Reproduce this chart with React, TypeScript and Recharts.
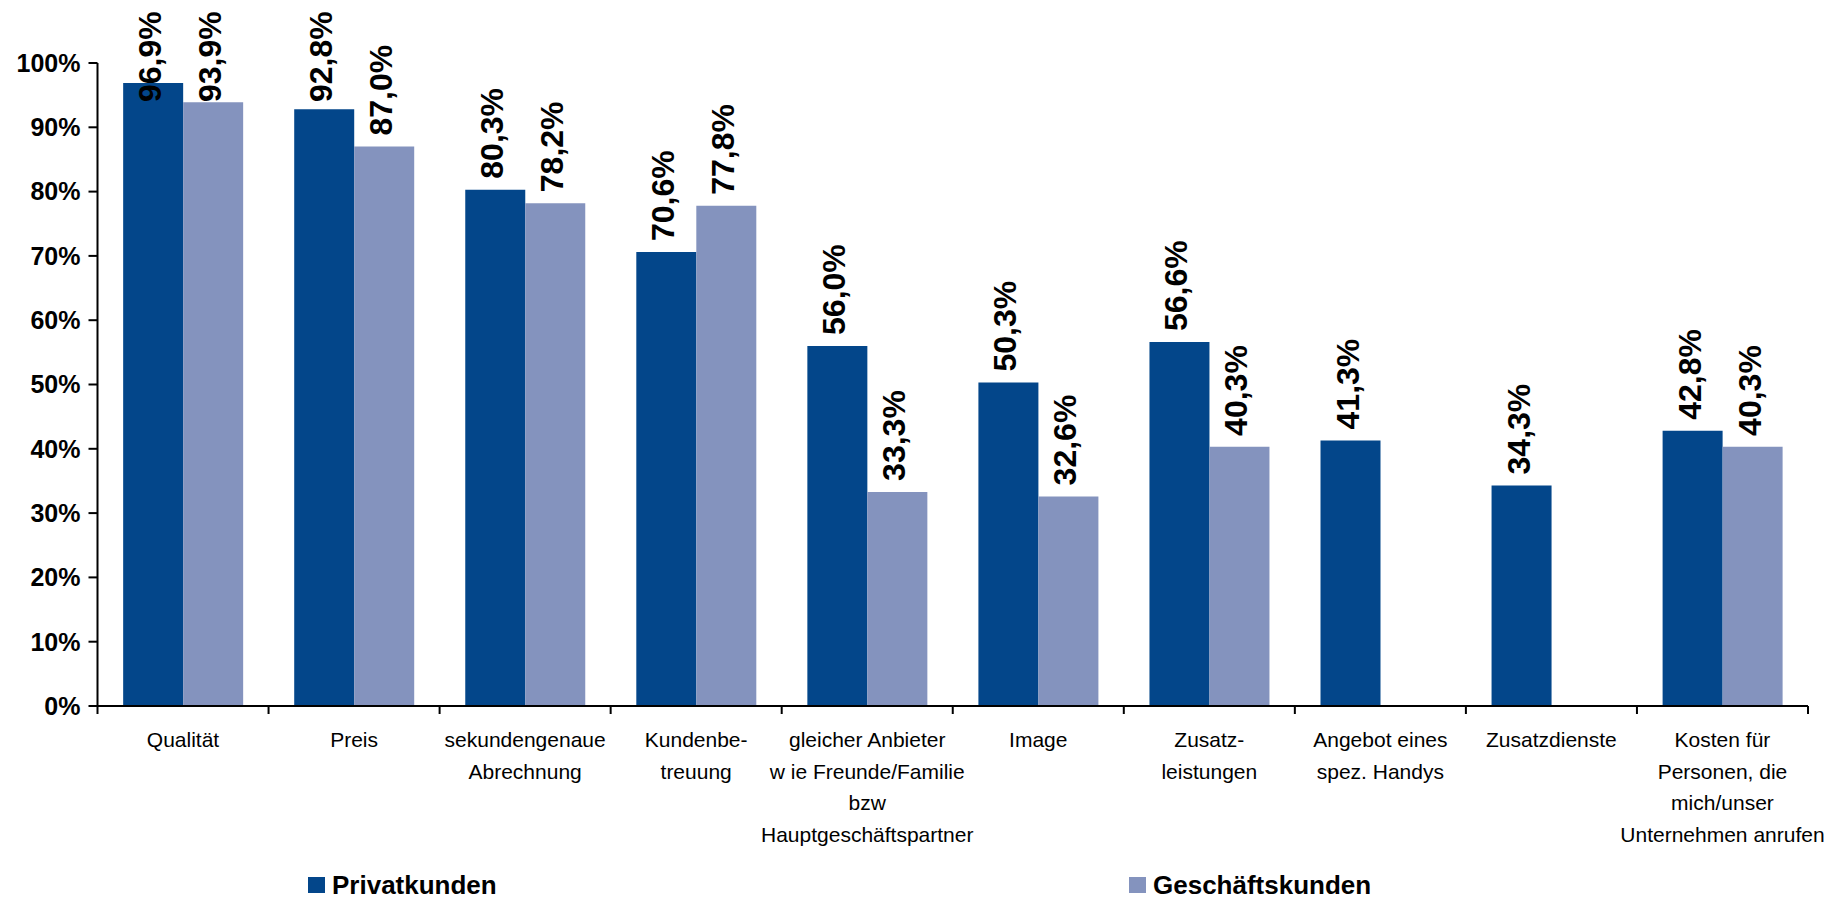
import { BarChart, Bar, XAxis, YAxis, LabelList } from 'recharts'

// Kategorien (Zeilenumbrüche wie im Original)
const categories = [
  'Qualität',
  'Preis',
  'sekundengenaue\nAbrechnung',
  'Kundenbe-\ntreuung',
  'gleicher Anbieter\nw ie Freunde/Familie\nbzw\nHauptgeschäftspartner',
  'Image',
  'Zusatz-\nleistungen',
  'Angebot eines\nspez. Handys',
  'Zusatzdienste',
  'Kosten für\nPersonen, die\nmich/unser\nUnternehmen anrufen',
]

const privatkunden = [96.9, 92.8, 80.3, 70.6, 56.0, 50.3, 56.6, 41.3, 34.3, 42.8]
const geschaeftskunden: (number | null)[] = [93.9, 87.0, 78.2, 77.8, 33.3, 32.6, 40.3, null, null, 40.3]

const yTicks = [0, 10, 20, 30, 40, 50, 60, 70, 80, 90, 100]

const series = [
  { key: 'privat', name: 'Privatkunden', color: '#03468A' },
  { key: 'geschaeft', name: 'Geschäftskunden', color: '#8493BE' },
]

const data = categories.map((name, i) => ({
  name,
  privat: privatkunden[i],
  geschaeft: geschaeftskunden[i],
}))

const FONT = "'Liberation Sans', Arial, sans-serif"
const W = 1847
const H = 898
const MARGIN = { top: 63, right: 39, bottom: 0, left: 0 }
const Y_AXIS_W = 97.5
const BAND = (W - MARGIN.left - MARGIN.right - Y_AXIS_W) / categories.length

const fmt = (v: number) => v.toFixed(1).replace('.', ',') + '%'

// senkrechte Datenbeschriftung über dem Balken
const RotatedLabel = (props: any) => {
  const { x, y, width, value } = props
  if (value == null) return null
  const cx = Number(x) + Number(width) / 2
  const start = Math.max(Number(y) - 11, 102)
  return (
    <text
      x={cx}
      y={start}
      dy={8}
      transform={`rotate(-90 ${cx} ${start})`}
      textAnchor="start"
      fontSize={32}
      fontWeight="bold"
      fontFamily={FONT}
      fill="#000"
    >
      {fmt(value)}
    </text>
  )
}

// Achsenbeschriftung mit Teilstrichen an den Kategoriegrenzen
const CategoryTick = (props: any) => {
  const { x, y, payload, index } = props
  const lines = String(payload.value).split('\n')
  const left = x - BAND / 2
  return (
    <g>
      <line x1={left} y1={y} x2={left} y2={y + 8} stroke="#000" strokeWidth={2} />
      {index === categories.length - 1 && (
        <line x1={x + BAND / 2} y1={y} x2={x + BAND / 2} y2={y + 8} stroke="#000" strokeWidth={2} />
      )}
      <text textAnchor="middle" fontSize={21} fontFamily={FONT} fill="#000">
        {lines.map((l, i) => (
          <tspan key={i} x={x} y={y + 41 + i * 31.5}>
            {l}
          </tspan>
        ))}
      </text>
    </g>
  )
}

export default function App() {
  return (
    <div style={{ position: 'absolute', left: 0, top: 0, width: W, height: H, background: '#fff' }}>
      <BarChart width={W} height={H} data={data} margin={MARGIN} barCategoryGap="15%" barGap={0}>
        <XAxis
          dataKey="name"
          height={H - MARGIN.top - 643}
          interval={0}
          tickSize={0}
          tickMargin={0}
          tickLine={false}
          axisLine={{ stroke: '#000', strokeWidth: 2 }}
          tick={<CategoryTick />}
        />
        <YAxis
          domain={[0, 100]}
          ticks={yTicks}
          interval={0}
          width={Y_AXIS_W}
          tickSize={9}
          tickMargin={8}
          tickFormatter={(v: number) => `${v}%`}
          axisLine={{ stroke: '#000', strokeWidth: 2 }}
          tickLine={{ stroke: '#000', strokeWidth: 2 }}
          tick={{ fill: '#000', fontSize: 25, fontWeight: 'bold', fontFamily: FONT }}
        />
        {series.map((s) => (
          <Bar key={s.key} dataKey={s.key} name={s.name} fill={s.color} isAnimationActive={false}>
            <LabelList dataKey={s.key} content={RotatedLabel} />
          </Bar>
        ))}
      </BarChart>
      {/* Legende */}
      {series.map((s, i) => (
        <div
          key={s.key}
          style={{
            position: 'absolute',
            left: i === 0 ? 308 : 1129,
            top: 872,
            display: 'flex',
            alignItems: 'center',
            fontFamily: FONT,
            fontWeight: 'bold',
            fontSize: 26,
            color: '#000',
            lineHeight: '26px',
          }}
        >
          <span style={{ width: 17, height: 16, background: s.color, marginRight: 7, display: 'inline-block' }} />
          {s.name}
        </div>
      ))}
    </div>
  )
}
